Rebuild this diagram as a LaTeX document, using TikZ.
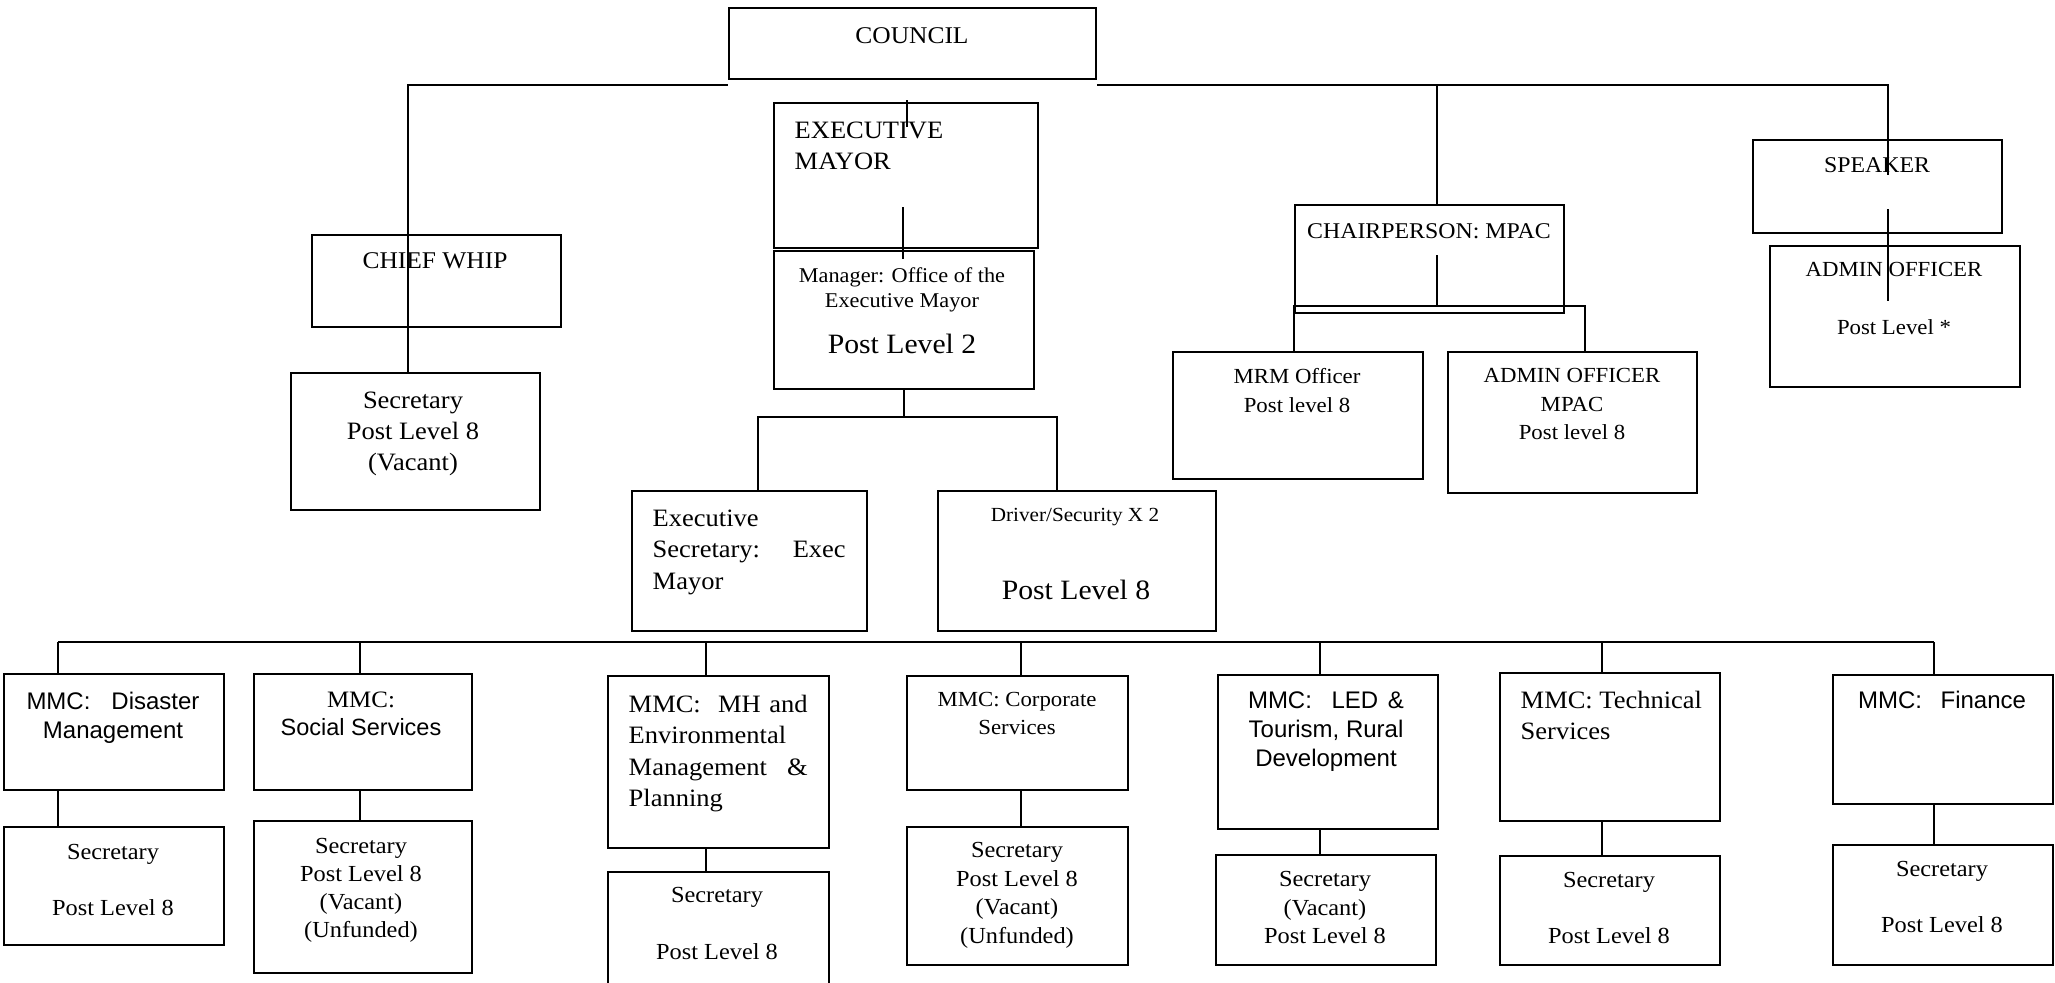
\documentclass[tikz,border=0pt]{standalone}
\usepackage{fontspec}
\setmainfont{Liberation Serif}[FakeStretch=1.06]
\setsansfont{Liberation Sans}
\usepackage{tikz}

\begin{document}
\begin{tikzpicture}[x=0.1mm, y=-0.1mm,
    box/.style={draw, line width=0.7pt, inner sep=0pt, anchor=north west},
    link/.style={line width=0.6pt},
    txt/.style={inner sep=0pt, align=center, anchor=north},
    fs/.style 2 args={font=\fontsize{#1}{#2}\selectfont},
    sans/.style={font=\sffamily\fontsize{6.83}{8.25}\selectfont}]

    % 画布大小
    \fill[white] (0,0) rectangle (2055,983);
    \useasboundingbox (0,0) rectangle (2055,983);

    % 画所有方框 (名称/左上角/宽/高)
    \foreach \n/\x/\y/\w/\h in {council/728/7/36.7/7.1, mayor/773/102/26.4/14.5,
        mgr/773/250/26.0/13.8, whip/311/234/24.9/9.2, whipsec/290/372/24.9/13.7,
        exsec/631/490/23.5/14.0, driver/937/490/27.8/14.0, chair/1294/204/26.9/10.8,
        mrm/1172/351/25.0/12.7, mpac/1447/351/24.9/14.1, speaker/1752/139/24.9/9.3,
        spadmin/1769/245/25.0/14.1,
        dis/3/673/22.0/11.6, dis-sec/3/826/22.0/11.8,
        soc/253/673/21.8/11.6, soc-sec/253/820/21.8/15.2,
        mh/607/675/22.1/17.2, mh-sec/607/871/22.1/14.0,
        corp/906/675/22.1/11.4, corp-sec/906/826/22.1/13.8,
        led/1217/674/22.0/15.4, led-sec/1215/854/22.0/11.0,
        tech/1499/672/22.0/14.8, tech-sec/1499/855/22.0/10.9,
        fin/1832/674/22.0/12.9, fin-sec/1832/844/22.0/12.0}
      \node[box, minimum width=\w mm, minimum height=\h mm] (\n) at (\x,\y) {};

    % 上半部分文字
    \node[txt, fs={6.83}{8}] (council-t) at (912,27) {COUNCIL};
    \node[txt, anchor=north west, align=left, fs={7.11}{8.82}] (mayor-t) at (794,121) {EXECUTIVE\\MAYOR};
    \node[txt, fs={6.83}{8}] (whip-t) at (435,252) {CHIEF WHIP};
    \node[txt, fs={7.11}{8.82}] (whipsec-t) at (413,391) {Secretary\\Post Level 8\\(Vacant)};
    \node[txt, fs={5.98}{7.11}] (mgr-t) at (902,267) {Manager: Office of the\\Executive Mayor};
    \node[txt, fs={7.97}{9}] (mgr-pl) at (902,333) {Post Level 2};
    \node[txt, anchor=north west, align=left, fs={7.11}{8.96}] (exsec-t) at (652,509)
        {Executive\\\makebox[19.3mm][s]{Secretary: Exec}\\Mayor};
    \node[txt, fs={5.69}{7}] (driver-t) at (1075,508) {Driver/Security X 2};
    \node[txt, fs={7.97}{9}] (driver-pl) at (1076,579) {Post Level 8};
    \node[txt, fs={6.40}{8}] (chair-t) at (1429,223) {CHAIRPERSON: MPAC};
    \node[txt, fs={6.12}{8.25}] (mrm-t) at (1297,368) {MRM Officer\\Post level 8};
    \node[txt, fs={6.12}{8.1}] (mpac-t) at (1572,368) {ADMIN OFFICER\\MPAC\\Post level 8};
    \node[txt, fs={6.40}{8}] (speaker-t) at (1877,157) {SPEAKER};
    \node[txt, fs={6.12}{8.25}] (spadmin-t) at (1894,262) {ADMIN OFFICER\\[8.25pt]Post Level *};

    % 下半部分文字 (MMC 及秘书)
    \node[txt, sans] (dis-t) at (113,691) {\makebox[17.3mm][s]{MMC: Disaster}\\Management};
    \node[txt, fs={6.54}{7.97}] (dis-sec-t) at (113,844) {Secretary\\[7.97pt]Post Level 8};
    \node[txt, fs={6.69}{7.97}] (soc-t) at (361,691) {MMC:\\\sffamily Social Services};
    \node[txt, fs={6.54}{7.97}] (soc-sec-t) at (361,838) {Secretary\\Post Level 8\\(Vacant)\\(Unfunded)};
    \node[txt, anchor=north west, align=left, fs={7.11}{8.96}] (mh-t) at (628,694)
        {\makebox[17.9mm][s]{MMC:\ \ MH and}\\Environmental\\\makebox[17.9mm][s]{Management \&}\\Planning};
    \node[txt, fs={6.54}{7.97}] (mh-sec-t) at (717,887) {Secretary\\[8.2pt]Post Level 8};
    \node[txt, fs={6.12}{7.97}] (corp-t) at (1017,692) {MMC: Corporate\\Services};
    \node[txt, fs={6.54}{8.1}] (corp-sec-t) at (1017,842) {Secretary\\Post Level 8\\(Vacant)\\(Unfunded)};
    \node[txt, sans] (led-t) at (1326,691) {\makebox[15.6mm][s]{MMC:\ \ LED \&}\\Tourism, Rural\\Development};
    \node[txt, fs={6.54}{8}] (led-sec-t) at (1325,871) {Secretary\\(Vacant)\\Post Level 8};
    \node[txt, anchor=north west, align=left, fs={7.11}{8.82}] (tech-t) at (1520,690) {MMC: Technical\\Services};
    \node[txt, fs={6.54}{7.97}] (tech-sec-t) at (1609,872) {Secretary\\[7.7pt]Post Level 8};
    \node[txt, sans] (fin-t) at (1942,690) {\makebox[16.8mm][s]{MMC: Finance}};
    \node[txt, fs={6.54}{7.97}] (fin-sec-t) at (1942,861) {Secretary\\[7.97pt]Post Level 8};

    % 顶部横线及分支
    \coordinate (t-whip) at (408,85);
    \coordinate (t-chair) at (1437,85);
    \coordinate (t-spk) at (1888,85);
    \draw[link] (t-whip |- whipsec.north) -- (t-whip) -- (t-whip -| council.west);
    \coordinate (s-a) at (1888,175);
    \coordinate (s-b) at (1888,209);
    \coordinate (s-c) at (1888,301);
    \draw[link] (t-whip -| council.east) -- (t-spk) -- (s-a);
    \draw[link] (s-b) -- (s-c);

    % 市长 -> 经理
    \coordinate (m-a) at (907,100);
    \coordinate (m-b) at (907,127);
    \coordinate (m-c) at (903,207);
    \coordinate (m-d) at (903,259);
    \draw[link] (m-a) -- (m-b);
    \draw[link] (m-c) -- (m-d);

    % 经理 -> 秘书 / 司机
    \coordinate (e-l) at (758,417);
    \coordinate (e-r) at (1057,417);
    \draw[link] (mgr.south) -- (mgr.south |- e-l);
    \draw[link] (e-l |- exsec.north) -- (e-l) -- (e-r) -- (e-r |- driver.north);

    % MPAC 分支
    \coordinate (c-in) at (1437,255);
    \coordinate (c-l) at (1294,306);
    \coordinate (c-r) at (1585,306);
    \draw[link] (t-chair) -- (t-chair |- chair.north);
    \draw[link] (c-in) -- (c-in |- c-l);
    \draw[link] (c-l |- mrm.north) -- (c-l) -- (c-r) -- (c-r |- mpac.north);

    % 底部横线及各 MMC
    \foreach \n/\x in {dis/58, soc/360, mh/706, corp/1021, led/1320, tech/1602, fin/1934}
      \coordinate (b-\n) at (\x,642);
    \draw[link] (b-dis) -- (b-fin);
    \foreach \n in {dis,soc,mh,corp,led,tech,fin}{
      \draw[link] (b-\n) -- (b-\n |- \n.north);
      \draw[link] (b-\n |- \n.south) -- (b-\n |- \n-sec.north);
    }

\end{tikzpicture}
\end{document}
